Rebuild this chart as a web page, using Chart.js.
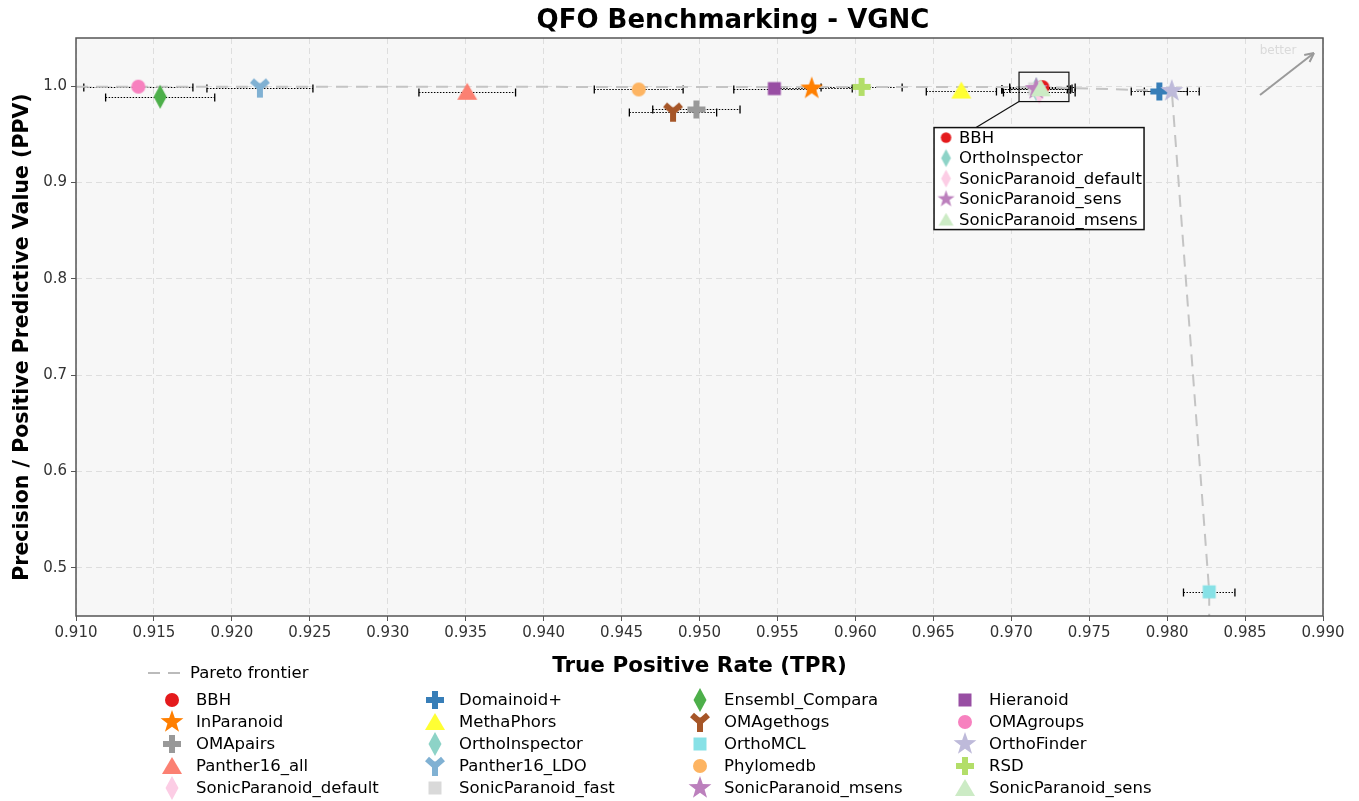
<!DOCTYPE html>
<html>
<head>
<meta charset="utf-8">
<title>QFO Benchmarking - VGNC</title>
<script src="https://cdn.jsdelivr.net/npm/chart.js@4/dist/chart.umd.min.js"></script>
<style>
  body { margin: 0; background: #fff; }
  #wrap { width: 1359px; height: 801px; }
</style>
</head>
<body>
<div id="wrap"><canvas id="myChart" width="1359" height="801"></canvas></div>
<script>
// data
var methods = ['BBH', 'Domainoid+', 'Ensembl_Compara', 'Hieranoid', 'InParanoid', 'MethaPhors',
  'OMAgethogs', 'OMAgroups', 'OMApairs', 'OrthoInspector', 'OrthoMCL', 'OrthoFinder',
  'Panther16_all', 'Panther16_LDO', 'Phylomedb', 'RSD', 'SonicParanoid_default',
  'SonicParanoid_fast', 'SonicParanoid_msens', 'SonicParanoid_sens'];
var tpr = [0.9720, 0.9795, 0.9154, 0.9548, 0.9572, 0.9668, 0.9483, 0.9140, 0.9498, 0.9716,
  0.9827, 0.9803, 0.9351, 0.9218, 0.9461, 0.9604, 0.9718, 0.9715, 0.9716, 0.9719];
var ppv = [0.9990, 0.9945, 0.9890, 0.9975, 0.9976, 0.9955, 0.9735, 0.9995, 0.9758, 0.9968,
  0.4751, 0.9950, 0.9942, 0.9985, 0.9966, 0.9992, 0.9938, 0.9972, 0.9970, 0.9978];
var tprErr = [0.0021, 0.0018, 0.0035, 0.0026, 0.0026, 0.00225, 0.0028, 0.0035, 0.0028, 0.0022,
  0.00165, 0.00176, 0.0031, 0.0034, 0.00285, 0.0026, 0.0023, 0.0021, 0.0022, 0.0020];
var shapes = ['o', 'P', 'd', 's', '*', '^', 'Y', 'o', 'P', 'd', 's', '*', '^', 'Y', 'o', 'P', 'd', 's', '*', '^'];
var colors = ['#e41a1c', '#377eb8', '#4daf4a', '#984ea3', '#ff7f00', '#ffff33', '#a65628', '#f781bf',
  '#999999', '#8dd3c7', '#87e1e6', '#bebada', '#fb8072', '#80b1d3', '#fdb462', '#b3de69',
  '#fccde5', '#d9d9d9', '#bc80bd', '#ccebc5'];

var paretoX = [0.910, 0.9140, 0.9720, 0.9803, 0.9827, 0.9827];
var paretoY = [0.9995, 0.9995, 0.9990, 0.9950, 0.4751, 0.45];

var xTicks = [0.910, 0.915, 0.920, 0.925, 0.930, 0.935, 0.940, 0.945, 0.950, 0.955,
  0.960, 0.965, 0.970, 0.975, 0.980, 0.985, 0.990];
var yTicks = [0.5, 0.6, 0.7, 0.8, 0.9, 1.0];

// zoomed cluster box and its little legend
var zoomX = [0.9705, 0.9737];
var zoomY = [0.984, 1.0145];
var insetLabels = ['BBH', 'OrthoInspector', 'SonicParanoid_default', 'SonicParanoid_sens', 'SonicParanoid_msens'];
var insetShapes = ['o', 'd', 'd', '*', '^'];
var insetColors = ['#e41a1c', '#8dd3c7', '#fccde5', '#bc80bd', '#ccebc5'];

var FONT = '"DejaVu Sans", Verdana, sans-serif';

// build a little canvas for each marker shape
function makeMarker(shape, color, scale) {
  scale = scale || 1;
  var s = Math.round(28 * scale);
  var c = document.createElement('canvas');
  c.width = s; c.height = s;
  var g = c.getContext('2d');
  var m = s / 2;
  g.translate(m, m);
  g.scale(scale, scale);
  g.fillStyle = color;
  g.strokeStyle = color;
  g.beginPath();
  if (shape === 'o') {
    g.arc(0, 0, 7, 0, Math.PI * 2);
    g.fill();
  } else if (shape === 's') {
    g.fillRect(-6.5, -6.5, 13, 13);
  } else if (shape === '^') {
    g.moveTo(0, -9); g.lineTo(10, 8); g.lineTo(-10, 8); g.closePath();
    g.fill();
  } else if (shape === 'd') {
    g.moveTo(0, -12); g.lineTo(6.5, 0); g.lineTo(0, 12); g.lineTo(-6.5, 0); g.closePath();
    g.fill();
  } else if (shape === '*') {
    for (var k = 0; k < 10; k++) {
      var r = (k % 2 === 0) ? 12 : 4.8;
      var a = -Math.PI / 2 + k * Math.PI / 5;
      if (k === 0) g.moveTo(r * Math.cos(a), r * Math.sin(a));
      else g.lineTo(r * Math.cos(a), r * Math.sin(a));
    }
    g.closePath();
    g.fill();
  } else if (shape === 'P') {
    g.fillRect(-3, -9, 6, 18);
    g.fillRect(-9, -3, 18, 6);
  } else if (shape === 'Y') {
    g.lineWidth = 6;
    g.lineCap = 'butt';
    g.moveTo(0, 0); g.lineTo(-8, -7);
    g.moveTo(0, 0); g.lineTo(8, -7);
    g.moveTo(0, -2); g.lineTo(0, 10);
    g.stroke();
    g.beginPath();
    g.arc(0, -1, 3.5, 0, Math.PI * 2);
    g.fill();
  }
  return c;
}

var markerImgs = methods.map(function (m, i) { return makeMarker(shapes[i], colors[i]); });

var datasets = [{
  type: 'line',
  label: 'Pareto frontier',
  data: paretoX.map(function (x, i) { return { x: x, y: paretoY[i] }; }),
  borderColor: '#c4c4c4',
  borderWidth: 2,
  borderDash: [12, 8],
  pointRadius: 0,
  fill: false,
  tension: 0,
  order: 100
}];
methods.forEach(function (m, i) {
  datasets.push({
    type: 'scatter',
    label: m,
    data: [{ x: tpr[i], y: ppv[i] }],
    pointStyle: markerImgs[i],
    pointRadius: 8,
    order: methods.length - i
  });
});

// background, error bars, frame, titles, annotations and legend
var decorations = {
  id: 'decorations',
  beforeDraw: function (chart) {
    var a = chart.chartArea, ctx = chart.ctx;
    ctx.save();
    ctx.fillStyle = '#f7f7f7';
    ctx.fillRect(a.left, a.top, a.right - a.left, a.bottom - a.top);
    ctx.restore();
  },
  beforeDatasetsDraw: function (chart) {
    var ctx = chart.ctx, xs = chart.scales.x, ys = chart.scales.y;
    ctx.save();
    ctx.strokeStyle = '#000';
    for (var i = 0; i < methods.length; i++) {
      var y = Math.round(ys.getPixelForValue(ppv[i])) + 0.5;
      var x0 = xs.getPixelForValue(tpr[i] - tprErr[i]);
      var x1 = xs.getPixelForValue(tpr[i] + tprErr[i]);
      ctx.lineWidth = 1;
      ctx.setLineDash([1.5, 1.5]);
      ctx.beginPath(); ctx.moveTo(x0, y); ctx.lineTo(x1, y); ctx.stroke();
      ctx.setLineDash([]);
      ctx.lineWidth = 1.3;
      ctx.beginPath();
      ctx.moveTo(x0, y - 4); ctx.lineTo(x0, y + 4);
      ctx.moveTo(x1, y - 4); ctx.lineTo(x1, y + 4);
      ctx.stroke();
    }
    ctx.restore();
  },
  afterDraw: function (chart) {
    var ctx = chart.ctx, a = chart.chartArea, xs = chart.scales.x, ys = chart.scales.y;
    ctx.save();
    // frame
    ctx.strokeStyle = '#555';
    ctx.lineWidth = 1.5;
    ctx.strokeRect(a.left, a.top, a.right - a.left, a.bottom - a.top);

    // titles
    ctx.fillStyle = '#000';
    ctx.textAlign = 'center';
    ctx.textBaseline = 'middle';
    ctx.font = 'bold 26px ' + FONT;
    ctx.fillText('QFO Benchmarking - VGNC', 733, 21);
    ctx.font = 'bold 21.5px ' + FONT;
    ctx.fillText('True Positive Rate (TPR)', (a.left + a.right) / 2, 666);
    ctx.save();
    ctx.translate(23, (a.top + a.bottom) / 2 + 10);
    ctx.rotate(-Math.PI / 2);
    ctx.font = 'bold 20.5px ' + FONT;
    ctx.fillText('Precision / Positive Predictive Value (PPV)', 0, 0);
    ctx.restore();

    // "better" arrow
    ctx.strokeStyle = '#9a9a9a';
    ctx.lineWidth = 2;
    var ax0 = a.right - 63, ay0 = a.top + 57, ax1 = a.right - 9, ay1 = a.top + 15;
    ctx.beginPath(); ctx.moveTo(ax0, ay0); ctx.lineTo(ax1, ay1); ctx.stroke();
    var ang = Math.atan2(ay1 - ay0, ax1 - ax0);
    ctx.beginPath();
    ctx.moveTo(ax1, ay1);
    ctx.lineTo(ax1 - 10 * Math.cos(ang - 0.45), ay1 - 10 * Math.sin(ang - 0.45));
    ctx.moveTo(ax1, ay1);
    ctx.lineTo(ax1 - 10 * Math.cos(ang + 0.45), ay1 - 10 * Math.sin(ang + 0.45));
    ctx.stroke();
    ctx.fillStyle = '#dadada';
    ctx.font = '12px ' + FONT;
    ctx.fillText('better', a.right - 45, a.top + 13);

    // zoom box round the crowded cluster
    var zl = xs.getPixelForValue(zoomX[0]), zr = xs.getPixelForValue(zoomX[1]);
    var zt = ys.getPixelForValue(zoomY[1]), zb = ys.getPixelForValue(zoomY[0]);
    ctx.strokeStyle = '#111';
    ctx.lineWidth = 1.2;
    ctx.strokeRect(zl, zt, zr - zl, zb - zt);

    var bl = zl - 85, bt = zb + 26, bw = 210, bh = 102;
    ctx.beginPath(); ctx.moveTo(zl, zb); ctx.lineTo(bl + 42, bt); ctx.stroke();
    ctx.fillStyle = '#fff';
    ctx.fillRect(bl, bt, bw, bh);
    ctx.lineWidth = 1.5;
    ctx.strokeRect(bl, bt, bw, bh);
    ctx.textAlign = 'left';
    ctx.font = '16.5px ' + FONT;
    insetLabels.forEach(function (lab, k) {
      var ry = bt + 10 + k * 20.5;
      var img = makeMarker(insetShapes[k], insetColors[k], 0.75);
      ctx.drawImage(img, bl + 12 - img.width / 2, ry - img.height / 2);
      ctx.fillStyle = '#000';
      ctx.fillText(lab, bl + 25, ry + 1);
    });

    // legend under the plot
    ctx.strokeStyle = '#bbbbbb';
    ctx.lineWidth = 2;
    ctx.setLineDash([12, 8]);
    ctx.beginPath(); ctx.moveTo(148, 673); ctx.lineTo(182, 673); ctx.stroke();
    ctx.setLineDash([]);
    ctx.fillStyle = '#000';
    ctx.fillText('Pareto frontier', 190, 674);
    var colX = [172, 435, 700, 965];
    methods.forEach(function (m, i) {
      var cx = colX[i % 4], cy = 700 + Math.floor(i / 4) * 22;
      var img = markerImgs[i];
      ctx.drawImage(img, cx - img.width / 2, cy - img.height / 2);
      ctx.fillStyle = '#000';
      ctx.fillText(m, cx + 24, cy + 1);
    });
    ctx.restore();
  }
};

var ctx = document.getElementById('myChart').getContext('2d');
var myChart = new Chart(ctx, {
  type: 'scatter',
  data: { datasets: datasets },
  options: {
    responsive: false,
    animation: false,
    devicePixelRatio: 1,
    layout: { padding: { top: 38, right: 36, left: 0, bottom: 0 } },
    plugins: {
      legend: { display: false },
      title: { display: false },
      tooltip: { enabled: false }
    },
    scales: {
      x: {
        type: 'linear',
        min: 0.91,
        max: 0.99,
        afterBuildTicks: function (scale) { scale.ticks = xTicks.map(function (v) { return { value: v }; }); },
        afterFit: function (scale) { scale.height = 185; },
        grid: { color: '#dedede', tickColor: '#555', tickLength: 5 },
        border: { display: false, dash: [6, 4] },
        ticks: {
          color: '#333',
          font: { family: FONT, size: 15 },
          padding: 3,
          maxRotation: 0,
          callback: function (v) { return Number(v).toFixed(3); }
        }
      },
      y: {
        type: 'linear',
        min: 0.45,
        max: 1.05,
        afterBuildTicks: function (scale) { scale.ticks = yTicks.map(function (v) { return { value: v }; }); },
        afterFit: function (scale) { scale.width = 76; },
        grid: { color: '#dedede', tickColor: '#555', tickLength: 5 },
        border: { display: false, dash: [6, 4] },
        ticks: {
          color: '#333',
          font: { family: FONT, size: 15 },
          padding: 4,
          callback: function (v) { return Number(v).toFixed(1); }
        }
      }
    }
  },
  plugins: [decorations]
});
</script>
</body>
</html>
